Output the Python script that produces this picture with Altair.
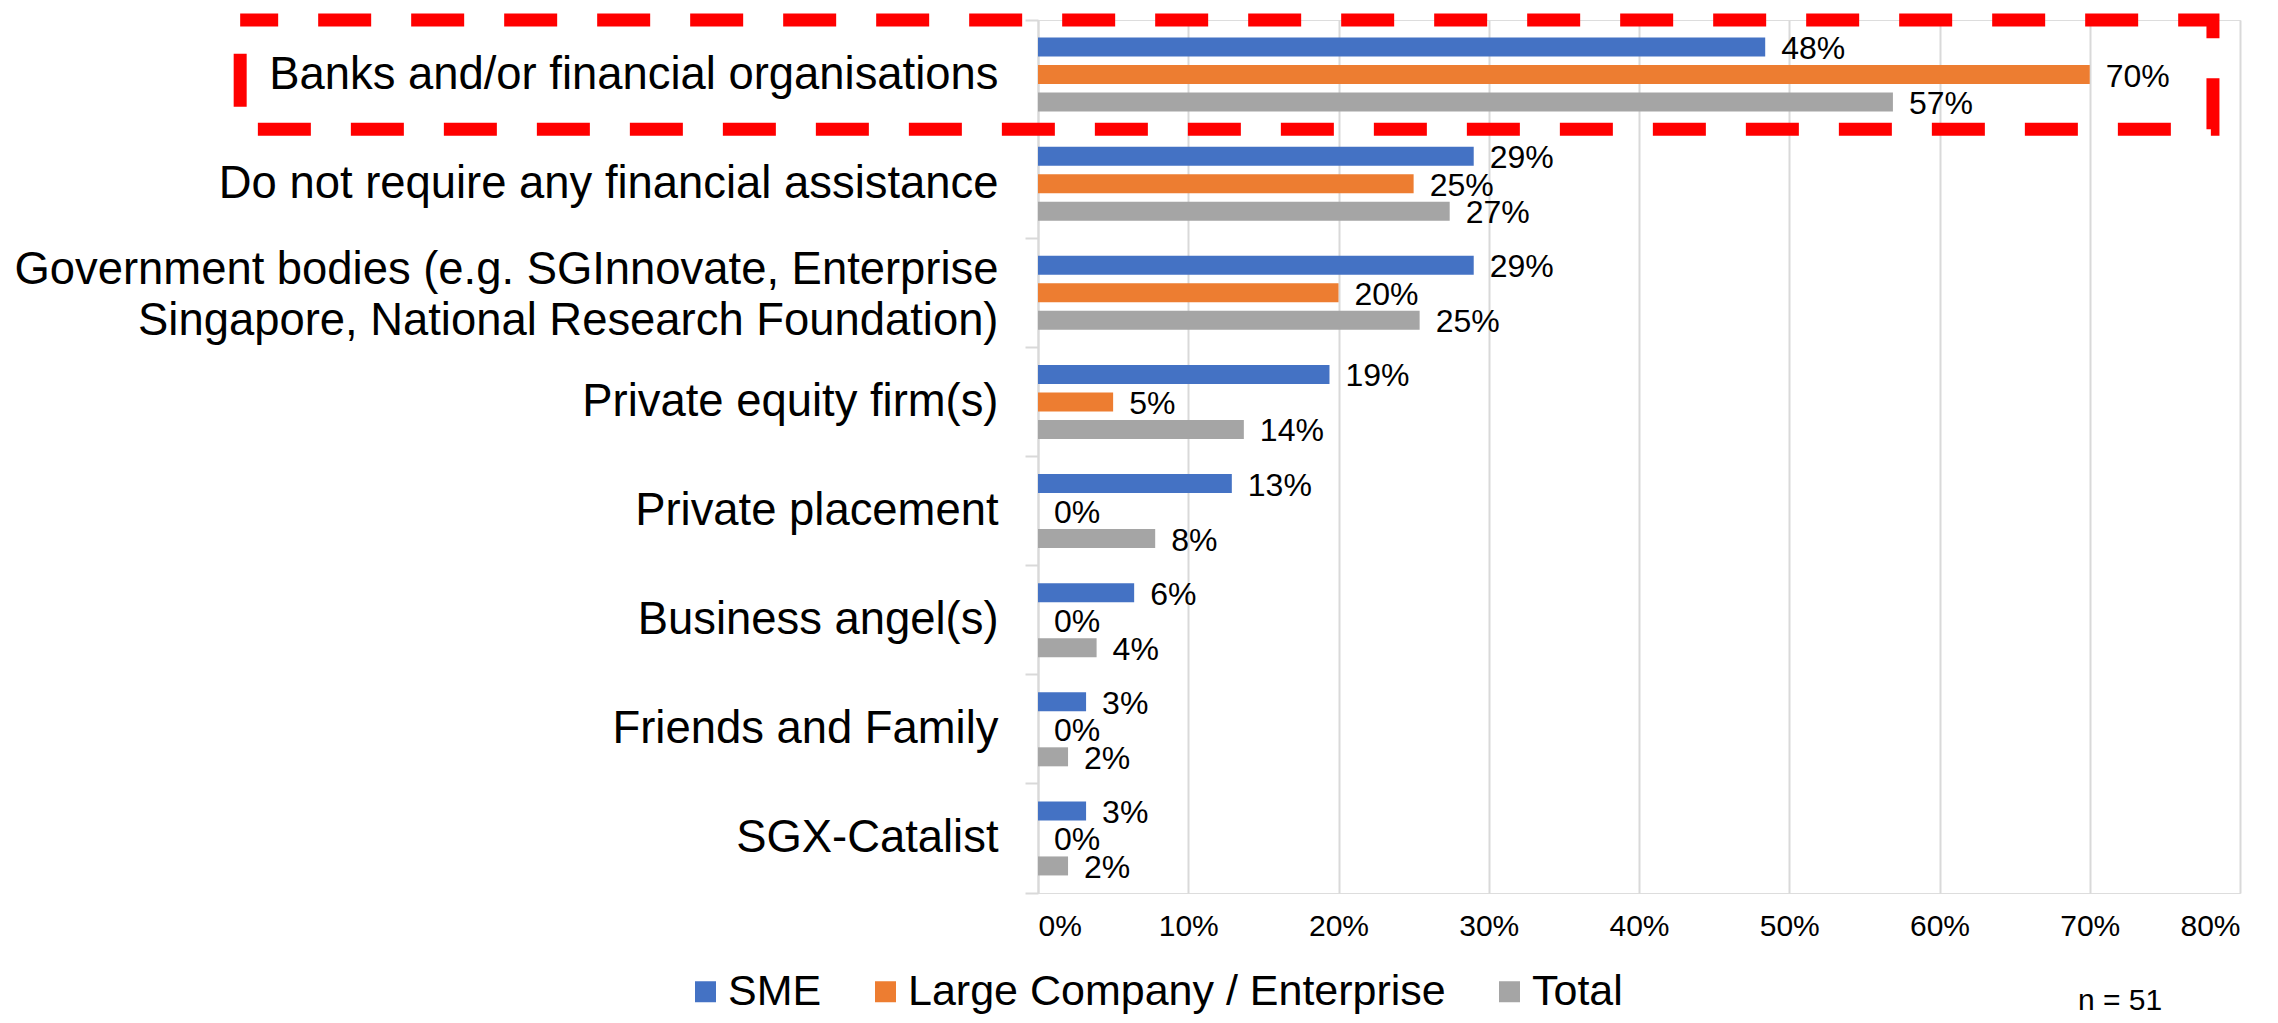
import altair as alt
import pandas as pd

categories = [
    "Banks and/or financial organisations",
    "Do not require any financial assistance",
    "Government bodies (e.g. SGInnovate, Enterprise|Singapore, National Research Foundation)",
    "Private equity firm(s)",
    "Private placement",
    "Business angel(s)",
    "Friends and Family",
    "SGX-Catalist",
]
series = ["SME", "Large Company / Enterprise", "Total"]
sme = [48.4, 29.0, 29.0, 19.4, 12.9, 6.4, 3.2, 3.2]
large = [70.0, 25.0, 20.0, 5.0, 0.0, 0.0, 0.0, 0.0]
total = [56.9, 27.4, 25.4, 13.7, 7.8, 3.9, 2.0, 2.0]
colors = ["#4472C4", "#ED7D31", "#A5A5A5"]
x_ticks = [0, 10, 20, 30, 40, 50, 60, 70, 80]
highlight_cat = [categories[0]]
highlight_x0 = [-53.1]
highlight_x1 = [78.2]
note = ["n = 51"]

rows = []
for s, vals in zip(series, [sme, large, total]):
    for c, v in zip(categories, vals):
        rows.append({"cat": c, "series": s, "value": v})
df = pd.DataFrame(rows)
hl_df = pd.DataFrame({"cat": highlight_cat, "x0": highlight_x0, "x1": highlight_x1})
note_df = pd.DataFrame({"t": note})

FONT = "Liberation Sans"
GRID = "#D9D9D9"

y_scale = alt.Scale(domain=categories, paddingInner=0, paddingOuter=0)
x_scale = alt.Scale(domain=[0, 80], nice=False, zero=True)
off_scale = alt.Scale(domain=series, paddingInner=0.309, paddingOuter=0.638)

y_main = alt.Y(
    "cat:N", scale=y_scale, sort=categories, title=None,
    axis=alt.Axis(orient="left", labelExpr="split(datum.label, '|')", labelFontSize=45.4,
                  labelColor="#000000", labelLimit=1200, labelPadding=40, labelLineHeight=51,
                  labelOffset={"condition": {"test": "indexof(datum.value, '|') >= 0", "value": -23},
                               "value": 0},
                  ticks=False, domain=True, domainColor=GRID, domainWidth=2, grid=False,
                  labelFont=FONT),
)
x_main = alt.X(
    "value:Q", scale=x_scale, title=None,
    axis=alt.Axis(values=x_ticks, labelExpr="datum.value + '%'", grid=True, gridColor=GRID,
                  gridWidth=2, domain=False, ticks=False, labelFontSize=30, labelPadding=18,
                  labelColor="#000000", labelFont=FONT),
)
color = alt.Color(
    "series:N", sort=series, scale=alt.Scale(domain=series, range=colors),
    legend=alt.Legend(title=None, orient="none", legendX=-354, legendY=950, direction="horizontal",
                      symbolType="square", symbolSize=441, symbolStrokeWidth=0, labelFontSize=43,
                      labelOffset=1, columnPadding=42, labelFont=FONT, labelColor="#000000",
                      padding=0, labelLimit=1000),
)

bars = alt.Chart(df).mark_bar().encode(
    y=y_main,
    yOffset=alt.YOffset("series:N", sort=series, scale=off_scale),
    x=x_main,
    color=color,
)

texts = alt.Chart(df).transform_calculate(
    label="format(datum.value, '.0f') + '%'"
).mark_text(align="left", baseline="middle", dx=16, dy=2, fontSize=32, font=FONT, color="#000000").encode(
    y=alt.Y("cat:N", sort=categories, axis=None),
    yOffset=alt.YOffset("series:N", sort=series),
    x=alt.X("value:Q", title=None),
    text="label:N",
)

highlight = alt.Chart(hl_df).mark_rect(
    fillOpacity=0, stroke="#FF0000", strokeWidth=13, strokeDash=[53, 40], strokeDashOffset=15
).encode(
    y=alt.Y("cat:N", sort=categories, axis=None),
    x=alt.X("x0:Q", title=None),
    x2="x1:Q",
)

ticks = alt.Chart(df).mark_point(opacity=0).encode(
    y=alt.Y("cat:N", sort=categories, title=None,
            axis=alt.Axis(orient="left", labels=False, domain=False, ticks=True, tickSize=13,
                          tickColor=GRID, tickWidth=2, bandPosition=1, tickExtra=True, grid=False)),
)

note_layer = alt.Chart(note_df).mark_text(
    align="center", baseline="alphabetic", fontSize=30, font=FONT, color="#000000"
).encode(x=alt.value(1082), y=alt.value(990), text="t:N")

chart = alt.layer(bars, texts, highlight, ticks, note_layer).resolve_axis(y="independent").properties(
    width=1202,
    height=873,
    autosize=alt.AutoSizeParams(type="none"),
    padding={"left": 1030, "top": 12, "right": 28, "bottom": 122},
).configure_view(stroke=None).configure(font=FONT)

chart.save("out.html", embed_options={"renderer": "svg", "actions": False})
